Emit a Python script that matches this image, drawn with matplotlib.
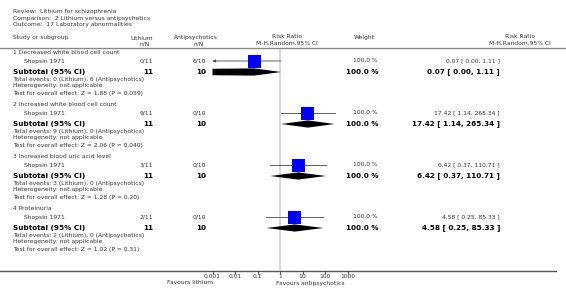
import numpy as np
import matplotlib
matplotlib.use("Agg")
import matplotlib.pyplot as plt
from matplotlib.patches import Polygon, Rectangle

# header
title_lines = ["Review:  Lithium for schizophrenia",
               "Comparison:  2 Lithium versus antipsychotics",
               "Outcome:  17 Laboratory abnormalities"]

# data
groups = ["1 Decreased white blood cell count",
          "2 Increased white blood cell count",
          "3 Increased blood uric acid level",
          "4 Proteinuria"]
study = "Shopsin 1971"
lith_events = [0, 9, 3, 2]
lith_total = [11, 11, 11, 11]
anti_events = [6, 0, 0, 0]
anti_total = [10, 10, 10, 10]
rr = [0.07, 17.42, 6.42, 4.58]
rr_lo = [0.00, 1.14, 0.37, 0.25]
rr_hi = [1.11, 265.34, 110.71, 85.33]
z_vals = ["1.88", "2.06", "1.28", "1.02"]
p_vals = ["0.059", "0.040", "0.20", "0.31"]
weight = [100.0, 100.0, 100.0, 100.0]
tick_vals = [0.001, 0.01, 0.1, 1, 10, 100, 1000]
tick_labels = ["0.001", "0.01", "0.1", "1", "10", "100", "1000"]

W, H = 566, 301
fig = plt.figure(figsize=(W / 100, H / 100), dpi=100)
ax = fig.add_axes([0, 0, 1, 1])
ax.set_xlim(0, W)
ax.set_ylim(H, 0)
ax.axis("off")

FS = 4.3
FSB = 5.2
GRAY = "#333333"

def t(x, y, s, ha="left", size=FS, bold=False, color=GRAY):
    ax.text(x, y, s, ha=ha, va="center", fontsize=size,
            fontweight="bold" if bold else "normal",
            color="black" if bold else color)

for i, line in enumerate(title_lines):
    t(13, 12 + i * 6.2, line)

t(13, 38, "Study or subgroup")
t(142, 38, "Lithium", ha="center")
t(145, 44, "n/N", ha="center")
t(196, 38, "Antipsychotics", ha="center")
t(199, 44, "n/N", ha="center")
t(287, 37, "Risk Ratio", ha="center")
t(287, 43, "M-H,Random,95% CI", ha="center")
t(364, 38, "Weight", ha="center")
t(520, 37, "Risk Ratio", ha="center")
t(520, 43, "M-H,Random,95% CI", ha="center")
ax.plot([0, W], [48, 48], color="#888888", lw=1.0)

# forest axes: 1 at x=280px, 22.5 px per decade
px_dec = 22.5
x0, x1 = 195, 365
fa = fig.add_axes([x0 / W, 0, (x1 - x0) / W, 1])
fa.set_xscale("log")
fa.set_xlim(10 ** ((x0 - 280) / px_dec), 10 ** ((x1 - 280) / px_dec))
fa.set_ylim(H, 0)
fa.patch.set_alpha(0)
for s in ["top", "right", "left", "bottom"]:
    fa.spines[s].set_visible(False)
fa.set_yticks([])
fa.set_xticks(tick_vals)
fa.set_xticklabels(tick_labels)
fa.xaxis.set_minor_locator(matplotlib.ticker.NullLocator())
fa.tick_params(axis="x", direction="out", length=2.0, width=0.6, pad=0.3,
               labelsize=FS, colors=GRAY)
fa.xaxis.set_ticks_position("bottom")
fa.spines["bottom"].set_position(("data", 270.5))

fa.plot([1, 1], [50, 270], color="#d8d8d8", lw=1.4, zorder=0)
ax.plot([0, 556], [270.5, 270.5], color="#555555", lw=1.0)

xmin_plot = 0.001
xmax_plot = 1000
sq_half = 6.5  # px
dh = 3.6

for g in range(len(groups)):
    y0 = 53 + g * 52
    ys = y0 + 8
    ysub = y0 + 19
    t(13, y0, groups[g])
    t(24, ys, study)
    t(153, ys, f"{lith_events[g]}/{lith_total[g]}", ha="right")
    t(206, ys, f"{anti_events[g]}/{anti_total[g]}", ha="right")
    t(378, ys, f"{weight[g]:.1f} %", ha="right")
    t(500, ys, f"{rr[g]:.2f} [ {rr_lo[g]:.2f}, {rr_hi[g]:.2f} ]", ha="right")

    t(13, ysub, "Subtotal (95% CI)", size=FSB, bold=True)
    t(153, ysub, f"{lith_total[g]}", ha="right", size=FSB, bold=True)
    t(206, ysub, f"{anti_total[g]}", ha="right", size=FSB, bold=True)
    t(378, ysub, f"{weight[g]:.1f} %", ha="right", size=FSB, bold=True)
    t(500, ysub, f"{rr[g]:.2f} [ {rr_lo[g]:.2f}, {rr_hi[g]:.2f} ]", ha="right",
      size=FSB, bold=True)
    t(13, ysub + 7, f"Total events: {lith_events[g]} (Lithium), {anti_events[g]} (Antipsychotics)")
    t(13, ysub + 14, "Heterogeneity: not applicable")
    t(13, ysub + 21, f"Test for overall effect: Z = {z_vals[g]} (P = {p_vals[g]})")

    # study CI line
    lo = max(rr_lo[g], xmin_plot)
    hi = min(rr_hi[g], xmax_plot)
    if rr_lo[g] < xmin_plot:
        fa.annotate("", xy=(xmin_plot, ys), xytext=(hi, ys),
                    arrowprops=dict(arrowstyle="-|>", lw=0.6, color="#444444",
                                    mutation_scale=4, shrinkA=0, shrinkB=0))
    else:
        fa.plot([lo, hi], [ys, ys], color="#444444", lw=0.6, zorder=2)
    # square (fixed pixel size around the estimate)
    cx = 280 + np.log10(rr[g]) * px_dec
    xl = 10 ** ((cx - sq_half - 280) / px_dec)
    xr = 10 ** ((cx + sq_half - 280) / px_dec)
    fa.add_patch(Rectangle((xl, ys - sq_half), xr - xl, 2 * sq_half,
                           facecolor="#0000ff", edgecolor="none", zorder=3))
    fa.plot([rr[g]], [ys], marker="+", color="#222222", ms=2, mew=0.5, zorder=4)

    # diamond
    if rr_lo[g] < xmin_plot:
        pts = [(xmin_plot, ysub - dh * 0.9), (rr[g], ysub - dh),
               (rr_hi[g], ysub), (rr[g], ysub + dh), (xmin_plot, ysub + dh * 0.9)]
    else:
        pts = [(rr_lo[g], ysub), (rr[g], ysub - dh),
               (rr_hi[g], ysub), (rr[g], ysub + dh)]
    fa.add_patch(Polygon(pts, closed=True, facecolor="black",
                         edgecolor="none", zorder=3))

t(213, 283, "Favours lithium", ha="right")
t(310, 283, "Favours antipsychotics", ha="center")

fig.savefig("out.png", dpi=100)
